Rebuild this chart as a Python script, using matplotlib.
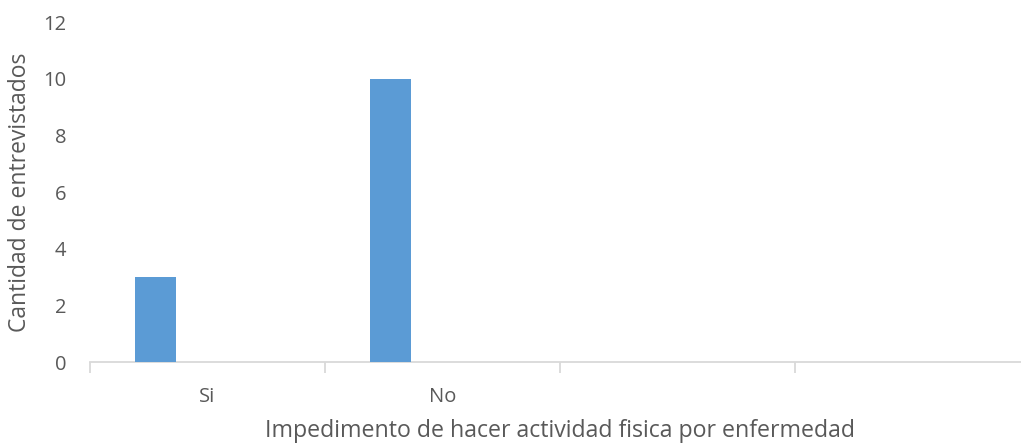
import matplotlib
matplotlib.use("Agg")
import matplotlib.pyplot as plt
import numpy as np

categories = ["Si", "No", "", ""]
values = [3, 10, 0, 0]
y_ticks = [0, 2, 4, 6, 8, 10, 12]

W, H = 1021, 446
fig = plt.figure(figsize=(W / 100, H / 100), dpi=100)
plt.rcParams["font.family"] = ["Open Sans", "DejaVu Sans"]

# plot area spans pixel x 90..1030 (right edge runs past the canvas), y 22..362
left, right = 90 / W, 1030 / W
bottom, top = 1 - 362 / H, 1 - 22 / H
ax = fig.add_axes([left, bottom, right - left, top - bottom])

x = np.arange(len(categories))
bar_offset = -0.221
bar_width = 0.174
ax.bar(x + bar_offset, values, width=bar_width, color="#5b9bd5", zorder=3)

ax.set_xlim(-0.5, len(categories) - 0.5)
ax.set_ylim(0, 12)
ax.set_yticks(y_ticks)
ax.set_yticklabels([str(v) for v in y_ticks], fontsize=14.5, color="#595959")
ax.tick_params(axis="y", length=0, pad=17)

ax.set_xticks(x)
ax.set_xticklabels(categories, fontsize=14.5, color="#595959")
ax.tick_params(axis="x", which="major", length=0, pad=18)
ax.set_xticks(np.arange(len(categories) + 1) - 0.5, minor=True)
ax.tick_params(axis="x", which="minor", length=8, width=1.3, color="#d9d9d9")

for side in ["left", "right", "top"]:
    ax.spines[side].set_visible(False)
ax.spines["bottom"].set_color("#d9d9d9")
ax.spines["bottom"].set_linewidth(1.3)

fig.text(20 / W, 1 - 192 / H, "Cantidad de entrevistados", rotation=90,
         ha="center", va="center", fontsize=16.5, color="#595959")
fig.text(560 / W, 1 - 431 / H, "Impedimento de hacer actividad fisica por enfermedad",
         ha="center", va="center", fontsize=16.7, color="#595959")

fig.savefig("out.png", dpi=100)
